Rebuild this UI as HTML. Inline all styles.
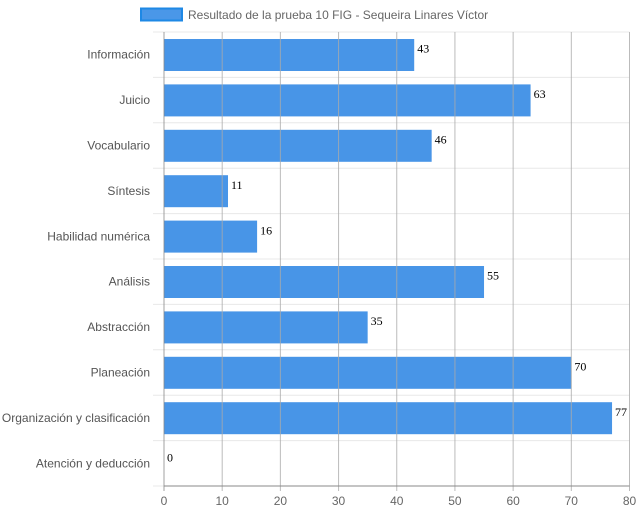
<!DOCTYPE html>
<html><head><meta charset="utf-8"><style>
html,body{margin:0;padding:0;background:#fff;}
svg{display:block;font-family:"Liberation Sans",sans-serif;}
</style></head><body>
<svg id="chart" width="639" height="514" xmlns="http://www.w3.org/2000/svg">
<g>
<rect x="141" y="8.5" width="41" height="12" fill="#4a97e8" stroke="#1e88e5" stroke-width="2"/>
<text x="188" y="19" font-size="12" fill="#666">Resultado de la prueba 10 FIG - Sequeira Linares Víctor</text>
</g>
<g id="grid"></g>
<g id="bars"></g>
<g id="labels"></g>
</svg>
<script>
const categories = ["Información","Juicio","Vocabulario","Síntesis","Habilidad numérica","Análisis","Abstracción","Planeación","Organización y clasificación","Atención y deducción"];
const values = [43,63,46,11,16,55,35,70,77,0];
const ticks = [0,10,20,30,40,50,60,70,80];
const NS="http://www.w3.org/2000/svg";
const x0=164,x1=629.5,yTop=32,yBot=486,xMax=80;
const xs=v=>x0+(v/xMax)*(x1-x0);
const band=(yBot-yTop)/categories.length;
const yb=i=>yTop+i*band;
function mk(tag,attrs,parent){const e=document.createElementNS(NS,tag);for(const k in attrs)e.setAttribute(k,attrs[k]);parent.appendChild(e);return e;}
const grid=document.getElementById('grid'),bars=document.getElementById('bars'),labels=document.getElementById('labels');
for(let i=0;i<=categories.length;i++){
  const l=mk('line',{x1:153,x2:x1,y1:yb(i),y2:yb(i),stroke:'#e8e8e8','stroke-width':1},grid);
  
  
}
categories.forEach((c,i)=>{
  const r=mk('rect',{x:x0,y:yb(i)+7,width:xs(values[i])-x0,height:band-13.4,fill:'#2f86e4','fill-opacity':0.88},bars);
  
  
  const t=mk('text',{x:150,y:yb(i)+band/2+4,'text-anchor':'end','font-size':12,fill:'#555'},labels);
  t.textContent=c;
  
  
  const v=mk('text',{x:xs(values[i])+3,y:yb(i)+band/2-2,'font-size':12,fill:'#000','font-family':'"Liberation Serif",serif'},labels);
  v.textContent=values[i];
  
  
});
ticks.forEach(t=>{
  const x=xs(t);
  const l=mk('line',{x1:x,x2:x,y1:yTop,y2:yBot+5,stroke:t===0?'#888':'#aaa','stroke-width':1,'stroke-opacity':0.8},labels);
  
  
  const tx=mk('text',{x:x,y:yBot+19,'text-anchor':'middle','font-size':12,fill:'#666'},labels);
  tx.textContent=t;
  
  
});
const ax=mk('line',{x1:x0,x2:x1,y1:yBot,y2:yBot,stroke:'#888','stroke-width':1},labels);


</script>
</body></html>
